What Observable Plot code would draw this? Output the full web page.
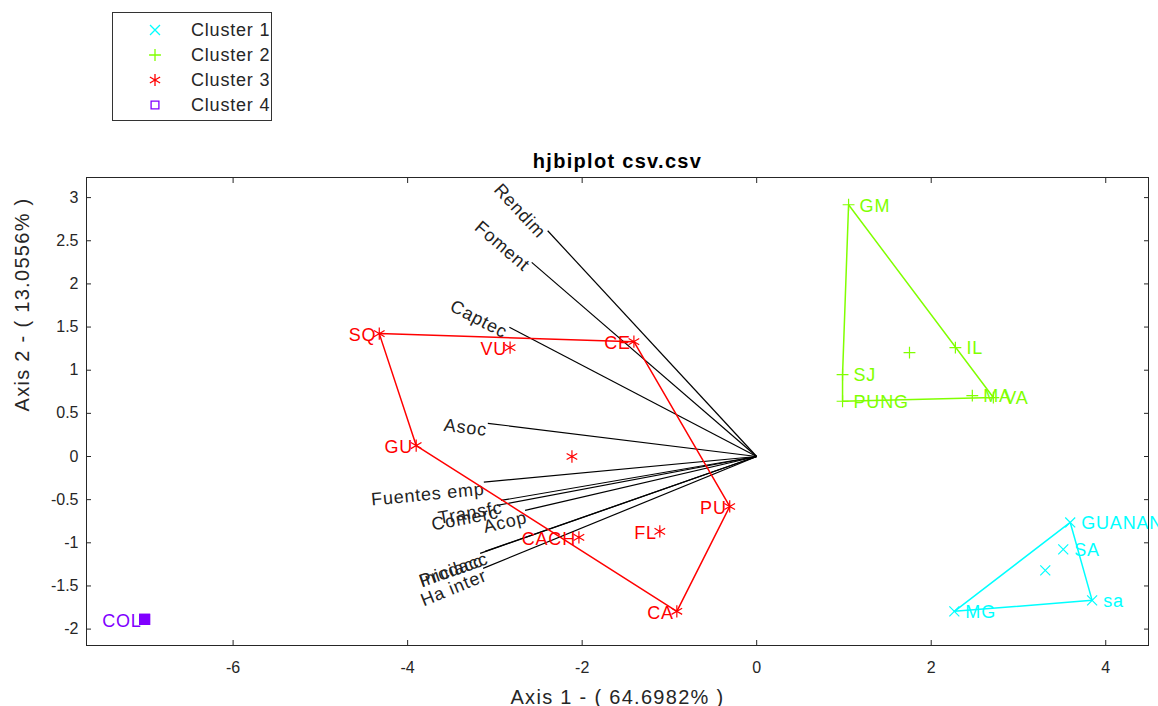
<!DOCTYPE html>
<html>
<head>
<meta charset="utf-8">
<script src="https://cdn.jsdelivr.net/npm/d3@7"></script>
<script src="https://cdn.jsdelivr.net/npm/@observablehq/plot@0.6"></script>
<style>
  html, body { margin: 0; padding: 0; background: #fff; }
  #wrap { position: relative; width: 1158px; height: 706px; overflow: hidden; font-family: "Liberation Sans", Arial, sans-serif; }
  #legend { position: absolute; left: 112px; top: 12px; }
</style>
</head>
<body>
<div id="wrap"><div id="chart"></div><div id="legend"></div></div>
<script>
// ---------- data ----------
const clusterNames = ["Cluster 1", "Cluster 2", "Cluster 3", "Cluster 4"];
const pointLabels  = ["GUANAN", "SA", "sa", "MG",
                      "GM", "IL", "SJ", "PUNG", "MA", "VA",
                      "SQ", "VU", "CE", "GU", "PU", "FL", "CACH", "CA",
                      "COL"];
const pointX       = [3.593, 3.513, 3.844, 2.265,
                      1.053, 2.277, 0.984, 0.984, 2.471, 2.712,
                      -4.325, -2.826, -1.407, -3.902, -0.309, -1.110, -2.037, -0.915,
                      -7.014];
const pointY       = [-0.764, -1.076, -1.667, -1.794,
                      2.917, 1.262, 0.949, 0.640, 0.706, 0.683,
                      1.424, 1.262, 1.331, 0.127, -0.579, -0.868, -0.937, -1.794,
                      -1.887];
const pointCluster = [1, 1, 1, 1,
                      2, 2, 2, 2, 2, 2,
                      3, 3, 3, 3, 3, 3, 3, 3,
                      4];
const centroidX    = [3.307, 1.751, -2.117, -7.014];
const centroidY    = [-1.319, 1.204, 0.000, -1.887];

const varLabels = ["Rendim", "Foment", "Captec", "Asoc", "Fuentes emp", "Transfc", "Comerc", "Acop", "Prodacc", "Iniciacc", "Ha inter"];
const varX      = [-2.395, -2.578, -2.834, -3.081, -3.127, -2.929, -2.975, -2.654, -3.112, -3.169, -3.135];
const varY      = [2.616, 2.249, 1.497, 0.385, -0.297, -0.509, -0.567, -0.625, -1.100, -1.123, -1.296];

const xTicks = [-6, -4, -2, 0, 2, 4];
const yTicks = [-2, -1.5, -1, -0.5, 0, 0.5, 1, 1.5, 2, 2.5, 3];

const titleText = "hjbiplot csv.csv";
const xLabel = "Axis 1 - ( 64.6982% )";
const yLabel = "Axis 2 - ( 13.0556% )";

// ---------- styles ----------
const clusterColors  = ["#00ffff", "#80ff00", "#ff0000", "#8000ff"];
const clusterSymbols = ["times", "plus", "asterisk", "square"];
const clusterR       = [4.6, 3.9, 5.8, 5.6];

const W = 1158, H = 706, mL = 86, mR = 10, mT = 177, mB = 61;
const xDomain = [-7.68, 4.49], yDomain = [-2.19, 3.233];
const kx = (W - mL - mR) / (xDomain[1] - xDomain[0]);
const ky = (H - mT - mB) / (yDomain[1] - yDomain[0]);

const points = pointLabels.map((t, i) => ({label: t, x: pointX[i], y: pointY[i], c: pointCluster[i]}));
const vars = varLabels.map((t, i) => ({label: t, x: varX[i], y: varY[i]}));

const marks = [];

// variable vectors
marks.push(Plot.link(vars, {x1: d => 0, y1: d => 0, x2: "x", y2: "y", stroke: "#000", strokeWidth: 1.2}));
marks.push(Plot.text(vars, {
  x: "x", y: "y", text: "label",
  rotate: d => Math.atan2(d.y * ky, -d.x * kx) * 180 / Math.PI,
  textAnchor: "end", lineAnchor: "top", fontSize: 18, fill: "#222"
}));

// hulls, points, centroids, labels per cluster
clusterNames.forEach((name, ci) => {
  const c = ci + 1;
  const col = clusterColors[ci];
  const pts = points.filter(p => p.c === c);
  if (pts.length >= 3) {
    const hull = d3.polygonHull(pts.map(p => [p.x, p.y]));
    hull.push(hull[0]);
    marks.push(Plot.line(hull, {x: d => d[0], y: d => d[1], stroke: col, strokeWidth: 1.5}));
  }
  marks.push(Plot.dot(pts, {x: "x", y: "y", symbol: clusterSymbols[ci], r: clusterR[ci], stroke: col, strokeWidth: 1.2, fill: "none"}));
  marks.push(Plot.dot([{x: centroidX[ci], y: centroidY[ci]}], {x: "x", y: "y", symbol: clusterSymbols[ci], r: clusterR[ci], stroke: col, strokeWidth: 1.2, fill: col}));
  marks.push(Plot.text(pts.filter(p => p.x < 0), {x: "x", y: "y", text: "label", fill: col, textAnchor: "end", dx: -3, dy: 2, fontSize: 18}));
  marks.push(Plot.text(pts.filter(p => p.x >= 0), {x: "x", y: "y", text: "label", fill: col, textAnchor: "start", dx: 11, dy: 1, fontSize: 18}));
});

// frame & axes
marks.push(Plot.frame({stroke: "#262626", strokeWidth: 1}));
marks.push(Plot.axisX(xTicks, {anchor: "bottom", tickSize: -5, tickPadding: 21, tickFormat: d => String(d), label: null, fontSize: 16, stroke: "#262626", fill: "#262626"}));
marks.push(Plot.axisX(xTicks, {anchor: "top", tickSize: -5, tickFormat: () => "", label: null, stroke: "#262626"}));
marks.push(Plot.axisY(yTicks, {anchor: "left", tickSize: -5, tickPadding: 13, tickFormat: d => String(d), label: null, fontSize: 16, stroke: "#262626", fill: "#262626"}));
marks.push(Plot.axisY(yTicks, {anchor: "right", tickSize: -5, tickFormat: () => "", label: null, stroke: "#262626"}));

// title and axis labels
marks.push(Plot.text([titleText], {frameAnchor: "top", lineAnchor: "bottom", dy: -10, text: d => d, fontWeight: "bold", fontSize: 20, fill: "#000"}));
marks.push(Plot.text([xLabel], {frameAnchor: "bottom", lineAnchor: "bottom", dy: 58, text: d => d, fontSize: 20, fill: "#262626"}));
marks.push(Plot.text([yLabel], {frameAnchor: "left", lineAnchor: "middle", dx: -64, rotate: -90, text: d => d, fontSize: 20, fill: "#262626"}));

const chart = Plot.plot({
  width: W, height: H,
  marginLeft: mL, marginRight: mR, marginTop: mT, marginBottom: mB,
  x: {domain: xDomain, axis: null},
  y: {domain: yDomain, axis: null},
  style: {fontFamily: "'Liberation Sans', Arial, sans-serif", fontSize: "16px", background: "white", overflow: "visible"},
  marks
});
document.getElementById("chart").appendChild(chart);

// widen letter spacing to match the reference's wider rendering
d3.select(chart).selectAll("text").each(function() {
  const fs = parseFloat(getComputedStyle(this).fontSize);
  if (fs >= 19.5) this.style.letterSpacing = "1.3px";
  else if (fs >= 17) this.style.letterSpacing = "0.8px";
});

// ---------- legend ----------
const lg = d3.select("#legend").append("svg").attr("width", 161).attr("height", 110)
  .style("font-family", "'Liberation Sans', Arial, sans-serif");
lg.append("rect").attr("x", 0.5).attr("y", 0.5).attr("width", 159).attr("height", 108)
  .attr("fill", "white").attr("stroke", "#333");
const d3Sym = {times: d3.symbolTimes, plus: d3.symbolPlus, asterisk: d3.symbolAsterisk, square: d3.symbolSquare};
const legR = [4.6, 3.9, 5.6, 4.4];
clusterNames.forEach((name, i) => {
  const yy = 18 + i * 25;
  lg.append("path")
    .attr("transform", `translate(43,${yy})`)
    .attr("d", d3.symbol(d3Sym[clusterSymbols[i]], Math.PI * legR[i] * legR[i])())
    .attr("fill", "none").attr("stroke", clusterColors[i]).attr("stroke-width", 1.3);
  lg.append("text").attr("x", 79).attr("y", yy).attr("dy", "0.35em")
    .attr("font-size", 18).attr("fill", "#262626").style("letter-spacing", "0.8px").text(name);
});
</script>
</body>
</html>
